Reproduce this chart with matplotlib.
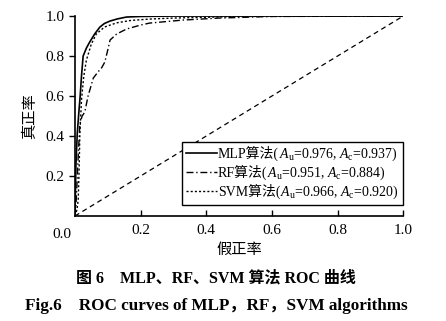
import matplotlib
matplotlib.use('Agg')
import matplotlib.pyplot as plt
from matplotlib.lines import Line2D
from matplotlib.offsetbox import AnchoredOffsetbox, HPacker, VPacker, TextArea, DrawingArea

plt.rcParams['font.family'] = ['Liberation Serif', 'Noto Sans CJK SC']
plt.rcParams['mathtext.fontset'] = 'custom'
plt.rcParams['mathtext.rm'] = 'Liberation Serif'
plt.rcParams['mathtext.it'] = 'Liberation Serif:italic'

# --- ROC verileri ---
mlp_fpr = [0.0, 0.003, 0.007, 0.012, 0.016, 0.02, 0.025, 0.035, 0.045, 0.06, 0.076, 0.09, 0.107, 0.13, 0.157, 0.2, 0.3, 1.0]
mlp_tpr = [0.0, 0.25, 0.41, 0.52, 0.6, 0.7, 0.8, 0.84, 0.87, 0.91, 0.945, 0.963, 0.975, 0.986, 0.995, 0.998, 1.0, 1.0]

rf_fpr = [0.0, 0.003, 0.006, 0.01, 0.015, 0.022, 0.03, 0.04, 0.056, 0.07, 0.081, 0.091, 0.1, 0.107, 0.127, 0.157, 0.2, 0.228, 0.33, 0.44, 0.6, 1.0]
rf_tpr = [0.0, 0.05, 0.15, 0.3, 0.46, 0.5, 0.52, 0.6, 0.69, 0.72, 0.74, 0.77, 0.83, 0.88, 0.91, 0.935, 0.955, 0.965, 0.98, 0.99, 0.998, 1.0]

svm_fpr = [0.0, 0.006, 0.01, 0.013, 0.015, 0.02, 0.027, 0.035, 0.05, 0.065, 0.09, 0.127, 0.17, 0.228, 0.3, 0.38, 0.5, 1.0]
svm_tpr = [0.0, 0.03, 0.08, 0.25, 0.41, 0.58, 0.7, 0.78, 0.86, 0.91, 0.945, 0.966, 0.978, 0.985, 0.99, 0.993, 0.998, 1.0]

names = ['MLP', 'RF', 'SVM']
auc_u = [0.976, 0.951, 0.966]
auc_c = [0.937, 0.884, 0.920]

ticks = [0.2, 0.4, 0.6, 0.8, 1.0]
tick_labels = ['0.2', '0.4', '0.6', '0.8', '1.0']

styles = [('-', 1.2), ((0, (5, 2, 1, 2)), 1.0), ((0, (1.5, 1.5)), 1.0)]

fig = plt.figure(figsize=(4.46, 3.21), dpi=100)
ax = fig.add_axes([0.168, 0.327, 0.736, 0.623])

curves = [(mlp_fpr, mlp_tpr), (rf_fpr, rf_tpr), (svm_fpr, svm_tpr)]
for (fpr, tpr), (ls, lw) in zip(curves, styles):
    ax.plot(fpr, tpr, color='black', lw=lw, linestyle=ls)
ax.plot([0, 1], [0, 1], color='black', lw=0.9, linestyle=(0, (4, 3)))

ax.set_xlim(0, 1)
ax.set_ylim(0, 1)
ax.spines['top'].set_visible(False)
ax.spines['right'].set_visible(False)
ax.spines['left'].set_linewidth(1.2)
ax.spines['bottom'].set_linewidth(1.2)
ax.set_xticks(ticks)
ax.set_xticklabels(tick_labels)
ax.set_yticks(ticks)
ax.set_yticklabels(tick_labels)
ax.tick_params(axis='x', direction='in', length=4, width=1.0, labelsize=11, pad=6)
ax.tick_params(axis='y', direction='out', length=4, width=1.0, labelsize=11)
ax.text(-0.04, -0.06, '0.0', transform=ax.transAxes, ha='center', va='top', fontsize=11)

ax.set_xlabel('假正率', fontsize=11, labelpad=4)
ax.set_ylabel('真正率', fontsize=11, labelpad=6)

# --- elle kurulan lejant (CJK + mathtext karışımı için) ---
rows = []
for name, au, ac, (ls, lw) in zip(names, auc_u, auc_c, styles):
    da = DrawingArea(22, 7, 0, 0)
    da.add_artist(Line2D([0, 22], [3.5, 3.5], color='black', lw=lw, linestyle=ls))
    t1 = TextArea(name + '算法(', textprops=dict(fontsize=10, family=['Liberation Serif', 'Noto Sans CJK SC']))
    t2 = TextArea(r'$A_{\rm u}$=%.3f, $A_{\rm c}$=%.3f)' % (au, ac), textprops=dict(fontsize=10))
    rows.append(HPacker(children=[da, HPacker(children=[t1, t2], pad=0, sep=0, align='baseline')],
                        pad=0, sep=1, align='baseline'))
box = VPacker(children=rows, pad=0, sep=1, align='left')
leg = AnchoredOffsetbox(loc='lower right', child=box, pad=0.3, borderpad=0, frameon=True,
                        bbox_to_anchor=(1.0, 0.055), bbox_transform=ax.transAxes)
leg.patch.set_boxstyle('square,pad=0')
leg.patch.set_edgecolor('black')
leg.patch.set_linewidth(1.0)
ax.add_artist(leg)

fig.text(0.485, 0.134, '图 6    MLP、RF、SVM 算法 ROC 曲线', ha='center', va='center',
         fontsize=11.5, fontweight='bold')
fig.text(0.486, 0.047, 'Fig.6    ROC curves of MLP，RF，SVM algorithms', ha='center', va='center',
         fontsize=12.3, fontweight='bold')

fig.savefig('out.png', dpi=100)
